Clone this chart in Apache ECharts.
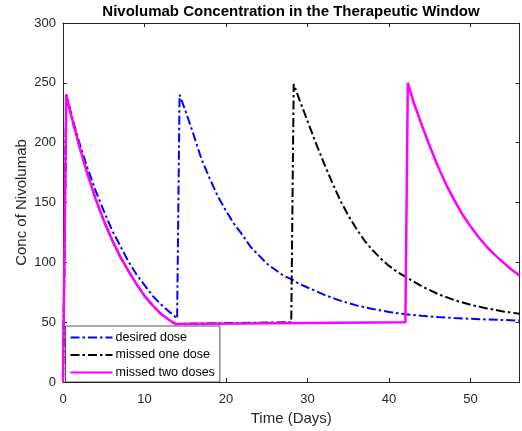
<!DOCTYPE html>
<html>
<head>
<meta charset="utf-8">
<script src="https://cdn.jsdelivr.net/npm/echarts@6/dist/echarts.min.js"></script>
<style>
html, body { margin: 0; padding: 0; background: #fff; }
#chart { width: 522px; height: 431px; }
</style>
</head>
<body>
<div id="chart"></div>
<script>
// values (days, concentration)
var desiredDays = [0, 0.4, 1, 2, 3, 4, 5, 6, 7, 8, 9, 10, 11, 12, 13, 14,
    14.3, 15, 16, 17, 18, 19, 20, 21, 22, 23, 24, 25, 26, 27, 28, 29, 30,
    32, 34, 36, 38, 40, 42, 44, 46, 48, 50, 52, 54, 56];
var desiredConc = [0, 240, 224, 200, 179, 160, 143, 127, 114, 101, 90, 81, 72, 65, 59, 53,
    240, 227, 207, 186, 170, 155, 143, 132, 123, 113, 106, 99, 94, 89, 86, 82, 79,
    73, 68, 64, 61, 58.5, 56.7, 55.3, 54.3, 53.4, 52.8, 52.2, 51.8, 51.3];

var missedOneDays = [0, 0.4, 1, 2, 3, 4, 5, 6, 7, 8, 9, 10, 11, 12, 13, 13.8, 14,
    28, 28.3, 29, 30, 31, 32, 33, 34, 35, 36, 37, 38, 39, 40, 41, 42,
    44, 46, 48, 50, 52, 54, 56];
var missedOneConc = [0, 240, 223, 197, 174, 153, 135, 119, 105, 93, 82, 72, 64, 57, 52, 48.5, 50,
    50, 249, 236, 218, 200, 183, 167, 152, 139, 128, 118, 110, 103, 97, 92, 88,
    80, 73.5, 68.5, 64.5, 61.5, 59, 57];

var missedTwoDays = [0, 0.4, 1, 2, 3, 4, 5, 6, 7, 8, 9, 10, 11, 12, 13, 13.8, 14,
    42, 42.3, 43, 44, 45, 46, 47, 48, 49, 50, 51, 52, 53, 54, 55, 56];
var missedTwoConc = [0, 240, 223, 197, 174, 153, 135, 119, 105, 93, 82, 72, 64, 57, 52, 48.5, 50,
    50, 250, 234, 215, 197, 180, 165, 152, 140, 130, 121, 113, 106, 100, 94, 89];

var seriesNames = ['desired dose', 'missed one dose', 'missed two doses'];

function pairs(xs, ys) {
    var out = [];
    for (var i = 0; i < xs.length; i++) out.push([xs[i], ys[i]]);
    return out;
}

var axisColor = '#262626';
var dashDot = [9, 3, 2.5, 3];

// top / right axes only draw the box with inward ticks
var boxAxis = {
    axisLine: { show: true, onZero: false, lineStyle: { color: axisColor, width: 1 } },
    axisTick: { show: true, inside: true, length: 4, lineStyle: { color: axisColor } },
    axisLabel: { show: false },
    splitLine: { show: false }
};

var option = {
    animation: false,
    backgroundColor: '#fff',
    title: {
        text: 'Nivolumab Concentration in the Therapeutic Window',
        left: 291,
        textAlign: 'center',
        top: 4,
        padding: 0,
        textStyle: { fontFamily: 'Liberation Sans', fontSize: 15, fontWeight: 'bold', color: '#000' }
    },
    legend: {
        data: seriesNames,
        orient: 'vertical',
        left: 65.5,
        bottom: 49,
        backgroundColor: '#fff',
        borderColor: axisColor,
        borderWidth: 0.8,
        borderRadius: 0,
        padding: [5, 5, 3, 4],
        itemGap: 4.5,
        itemWidth: 42,
        itemHeight: 14,
        itemStyle: { opacity: 0 },
        textStyle: { fontFamily: 'Liberation Sans', fontSize: 12.5, color: '#000', padding: [0, 0, 0, -2] }
    },
    grid: { left: 63, top: 23, right: 2.5, bottom: 49 },
    xAxis: [{
        type: 'value',
        min: 0,
        max: 56,
        interval: 10,
        name: 'Time (Days)',
        nameLocation: 'middle',
        nameGap: 29,
        nameMoveOverlap: false,
        nameTextStyle: { fontFamily: 'Liberation Sans', fontSize: 15, color: axisColor },
        axisLine: { show: true, lineStyle: { color: axisColor, width: 1 } },
        axisTick: { show: true, inside: true, length: 4, lineStyle: { color: axisColor } },
        axisLabel: { fontFamily: 'Liberation Sans', fontSize: 13, color: axisColor, margin: 11,
            showMaxLabel: false },
        splitLine: { show: false }
    }, Object.assign({ type: 'value', min: 0, max: 56, interval: 10, position: 'top' }, boxAxis)],
    yAxis: [{
        type: 'value',
        min: 0,
        max: 300,
        interval: 50,
        name: 'Conc of Nivolumab',
        nameLocation: 'middle',
        nameGap: 34,
        nameMoveOverlap: false,
        nameTextStyle: { fontFamily: 'Liberation Sans', fontSize: 15, color: axisColor },
        axisLine: { show: true, lineStyle: { color: axisColor, width: 1 } },
        axisTick: { show: true, inside: true, length: 4, lineStyle: { color: axisColor } },
        axisLabel: { fontFamily: 'Liberation Sans', fontSize: 13, color: axisColor, margin: 7 },
        splitLine: { show: false }
    }, Object.assign({ type: 'value', min: 0, max: 300, interval: 50, position: 'right' }, boxAxis)],
    series: [
        {
            name: seriesNames[0],
            type: 'line',
            symbol: 'none',
            color: '#0000ff',
            lineStyle: { color: '#0000ff', width: 2, type: dashDot },
            data: pairs(desiredDays, desiredConc)
        },
        {
            name: seriesNames[1],
            type: 'line',
            symbol: 'none',
            color: '#000000',
            lineStyle: { color: '#000000', width: 2, type: dashDot },
            data: pairs(missedOneDays, missedOneConc)
        },
        {
            name: seriesNames[2],
            type: 'line',
            symbol: 'none',
            color: '#ff00ff',
            lineStyle: { color: '#ff00ff', width: 2.5 },
            data: pairs(missedTwoDays, missedTwoConc)
        }
    ]
};

var myChart = echarts.init(document.getElementById('chart'));
myChart.setOption(option);
window.addEventListener('resize', function () {
    myChart.resize();
});
</script>
</body>
</html>
